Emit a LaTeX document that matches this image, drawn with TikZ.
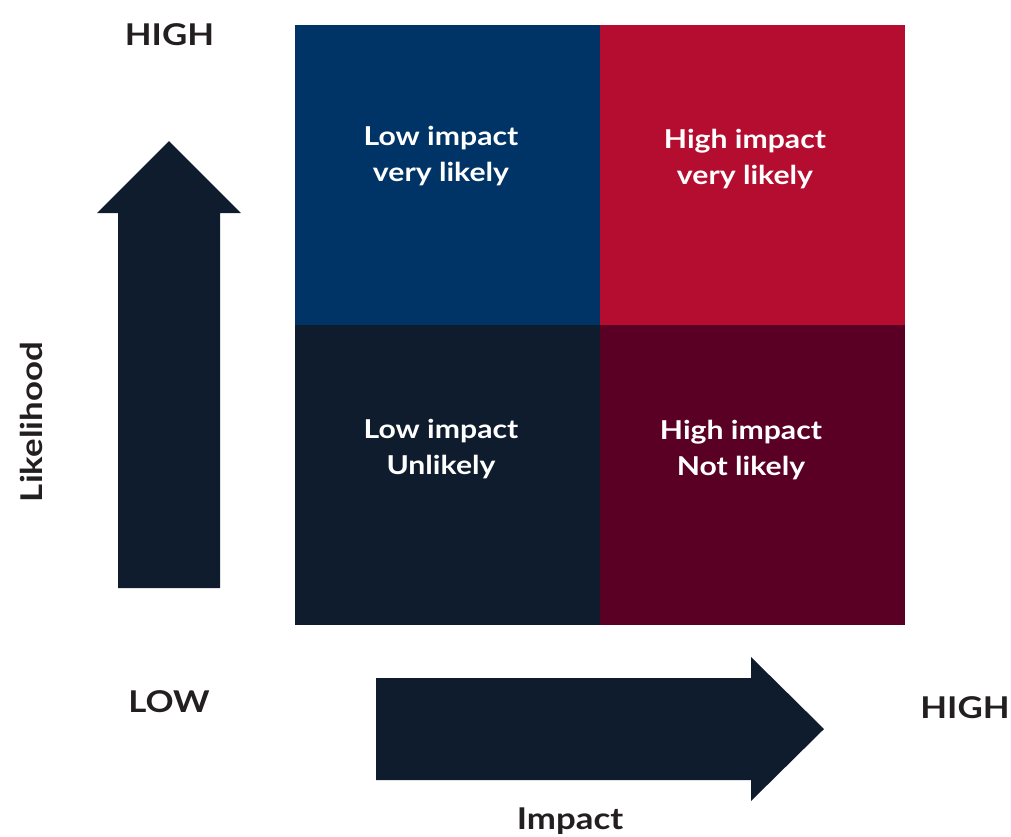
\documentclass[tikz,border=0pt]{standalone}
\usepackage{fontspec}
\setmainfont{Lato}[FakeStretch=1.16]
\usetikzlibrary{positioning}
\definecolor{RiskBlue}{HTML}{003466}
\definecolor{RiskRed}{HTML}{B50D2F}
\definecolor{RiskNavy}{HTML}{0F1C2E}
\definecolor{RiskWine}{HTML}{5A0024}
\definecolor{LabelInk}{HTML}{231F20}

\begin{document}
\begin{tikzpicture}[x=1pt,y=-1pt,
quad/.style={minimum width=305pt,minimum height=300pt,inner sep=0pt,outer sep=0pt},
qtext/.style={text=white,align=center,font=\bfseries\fontsize{26}{36}\selectfont},
axislabel/.style={text=LabelInk,anchor=base,font=\bfseries\fontsize{30}{36}\selectfont},
bigarrow/.style={fill=RiskNavy}]
\useasboundingbox (0,0) rectangle (1011,836);
% risk grid
\node[quad,fill=RiskBlue] (lowlikely) at (447.5,175) {};
\node[quad,fill=RiskRed,right=0pt of lowlikely] (highlikely) {};
\node[quad,fill=RiskNavy,below=0pt of lowlikely] (lowunlikely) {};
\node[quad,fill=RiskWine,below=0pt of highlikely] (highunlikely) {};
\node[qtext] (lowlikelytxt) at (441,156) {Low impact\\very likely};
\node[qtext] (highlikelytxt) at (745,159) {High impact\\very likely};
\node[qtext] (lowunlikelytxt) at (441,449) {Low impact\\Unlikely};
\node[qtext] (highunlikelytxt) at (741,450) {High impact\\Not likely};
% axis arrows
\fill[bigarrow] (118,588) -- (118,213) -- (97,213) -- (169,141) -- (241,213) -- (220,213) -- (220,588) -- cycle;
\fill[bigarrow] (376,678) -- (751,678) -- (751,657) -- (824,729) -- (751,801) -- (751,780) -- (376,780) -- cycle;
% axis labels
\node[axislabel] (yhigh) at (169.5,45) {HIGH};
\node[axislabel] (ylow) at (169,712) {LOW};
\node[axislabel] (xhigh) at (965,718) {HIGH};
\node[axislabel] (xname) at (570,829) {Impact};
\node[axislabel,rotate=90] (yname) at (42,422) {Likelihood};
\end{tikzpicture}
\end{document}
